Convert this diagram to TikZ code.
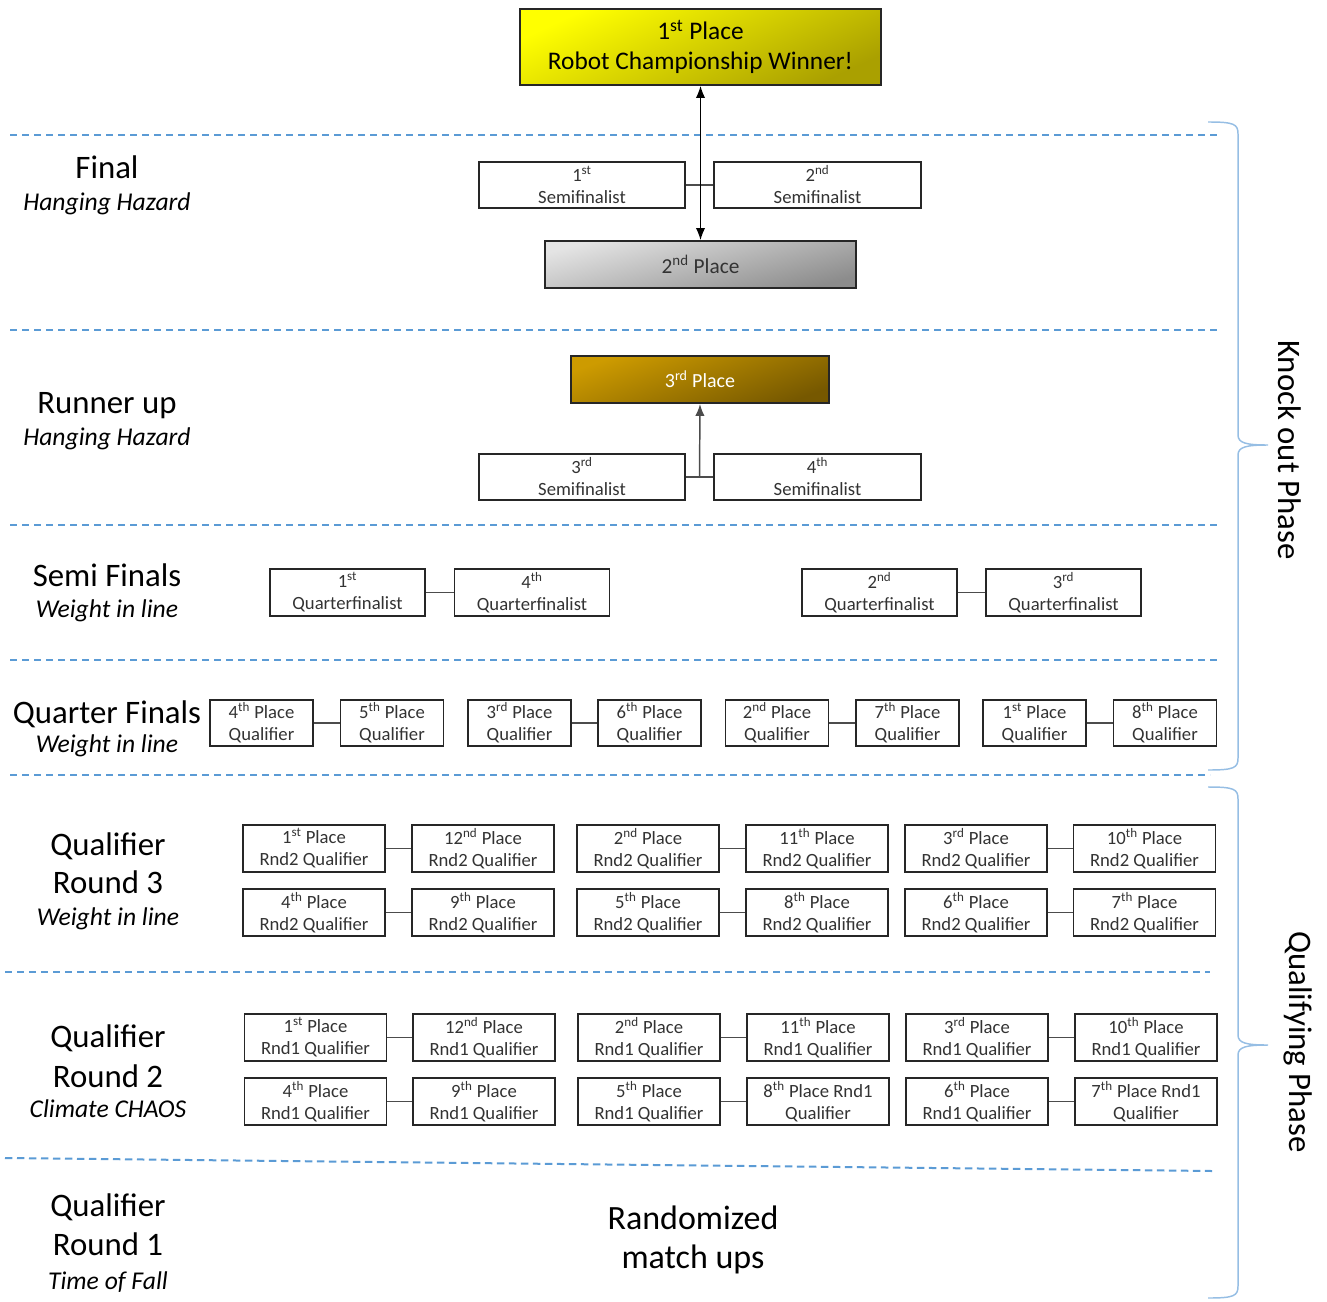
\documentclass[tikz,border=0pt]{standalone}
\usepackage{fontspec}
\setmainfont{Carlito}
\usepackage{tikz}
\usetikzlibrary{arrows.meta, calc, positioning}
\definecolor{lineablu}{RGB}{91,155,213}
\definecolor{graffablu}{RGB}{150,190,228}
\newcommand{\posto}[2]{#1\textsuperscript{#2}}
\tikzset{
  casella/.style 2 args={draw=black!85, line width=1.4pt, fill=white, text=black!80,
    minimum width=#1*0.75pt, minimum height=#2*0.75pt, inner sep=0pt, align=center,
    font=\fontsize{14}{16.5}\selectfont},
  separa/.style={lineablu, line width=1.5pt, dash pattern=on 5.5pt off 3.5pt},
  legame/.style={black!70, line width=1.1pt},
  graffa/.style={graffablu, line width=1.1pt},
  titolo/.style={anchor=base, font=\fontsize{24.6}{30}\selectfont},
  sottotitolo/.style={anchor=base, font=\fontsize{19.2}{22}\selectfont\itshape},
  punta/.tip={Latex[length=9pt, width=7pt]},
}

\begin{document}
\begin{tikzpicture}[x=0.75pt, y=-0.75pt]
    % Cornice
    \useasboundingbox (0,0) rectangle (1327,1302);
    % Linee tratteggiate
    \draw[separa] (10,135) -- (1218,135);
    \draw[separa] (10,330) -- (1218,330);
    \draw[separa] (10,525) -- (1218,525);
    \draw[separa] (10,660) -- (1218,660);
    \draw[separa] (10,775) -- (1210,775);
    \draw[separa] (5,972) -- (1210,972);
    \draw[separa] (5,1158) -- (1212,1171);
    % Finale
    \node[casella={361}{76}, top color={rgb,255:red,255;green,255;blue,0}, bottom color={rgb,255:red,170;green,160;blue,0}, shading angle=25, text=black, font=\fontsize{19}{22.5}\selectfont] (vincitore) at (700.5,47) {\posto{1}{st} Place\\Robot Championship Winner!};
    \node[casella={206}{46}] (semi1) at (582,185) {\posto{1}{st}\\Semifinalist};
    \node[casella={207}{46}] (semi2) at (817.5,185) {\posto{2}{nd}\\Semifinalist};
    \node[casella={311}{47}, top color={rgb,255:red,228;green,228;blue,228}, bottom color={rgb,255:red,140;green,140;blue,140}, shading angle=15, font=\fontsize{16}{19}\selectfont] (secondo) at (700.5,264.5) {\posto{2}{nd} Place};
    \draw[legame] (semi1.east) -- (semi2.west);
    \draw[punta-punta, line width=0.9pt] (vincitore.south) -- (secondo.north);
    % Finalina
    \node[casella={258}{47}, top color={rgb,255:red,205;green,155;blue,0}, bottom color={rgb,255:red,118;green,88;blue,0}, shading angle=20, text=white, font=\fontsize{15}{18}\selectfont] (terzo) at (700,379.5) {\posto{3}{rd} Place};
    \node[casella={206}{46}] (semi3) at (582,477) {\posto{3}{rd}\\Semifinalist};
    \node[casella={207}{46}] (semi4) at (817.5,477) {\posto{4}{th}\\Semifinalist};
    \coordinate (nodo3) at ($(semi3.east)!0.5!(semi4.west)$);
    \draw[legame] (semi3.east) -- (semi4.west);
    \draw[legame, -punta] (nodo3) -- (terzo.south);
    % Semifinali
    \node[casella={155}{47}] (quarto1) at (347.5,592.5) {\posto{1}{st}\\Quarterfinalist};
    \node[casella={155}{47}] (quarto4) at (532,592.5) {\posto{4}{th}\\Quarterfinalist};
    \node[casella={155}{47}] (quarto2) at (879.5,592.5) {\posto{2}{nd}\\Quarterfinalist};
    \node[casella={155}{47}] (quarto3) at (1063.5,592.5) {\posto{3}{rd}\\Quarterfinalist};
    \draw[legame] (quarto1.east) -- (quarto4.west);
    \draw[legame] (quarto2.east) -- (quarto3.west);
    % Quarti
    \node[casella={103}{46}] (qual4) at (261.5,723) {\posto{4}{th} Place\\Qualifier};
    \node[casella={103}{46}] (qual5) at (392,723) {\posto{5}{th} Place\\Qualifier};
    \node[casella={103}{46}] (qual3) at (519.5,723) {\posto{3}{rd} Place\\Qualifier};
    \node[casella={103}{46}] (qual6) at (649.5,723) {\posto{6}{th} Place\\Qualifier};
    \node[casella={103}{46}] (qual2) at (777,723) {\posto{2}{nd} Place\\Qualifier};
    \node[casella={103}{46}] (qual7) at (907.5,723) {\posto{7}{th} Place\\Qualifier};
    \node[casella={103}{46}] (qual1) at (1034.5,723) {\posto{1}{st} Place\\Qualifier};
    \node[casella={103}{46}] (qual8) at (1165,723) {\posto{8}{th} Place\\Qualifier};
    \draw[legame] (qual4.east) -- (qual5.west);
    \draw[legame] (qual3.east) -- (qual6.west);
    \draw[legame] (qual2.east) -- (qual7.west);
    \draw[legame] (qual1.east) -- (qual8.west);
    % Qualificazione turno 3
    \node[casella={142}{47}] (tre1) at (314,848.5) {\posto{1}{st} Place\\Rnd2 Qualifier};
    \node[casella={142}{47}] (tre12) at (483,848.5) {\posto{12}{nd} Place\\Rnd2 Qualifier};
    \node[casella={142}{47}] (tre2) at (648,848.5) {\posto{2}{nd} Place\\Rnd2 Qualifier};
    \node[casella={142}{47}] (tre11) at (817,848.5) {\posto{11}{th} Place\\Rnd2 Qualifier};
    \node[casella={142}{47}] (tre3) at (976,848.5) {\posto{3}{rd} Place\\Rnd2 Qualifier};
    \node[casella={142}{47}] (tre10) at (1144.5,848.5) {\posto{10}{th} Place\\Rnd2 Qualifier};
    \node[casella={142}{47}] (tre4) at (314,912.5) {\posto{4}{th} Place\\Rnd2 Qualifier};
    \node[casella={142}{47}] (tre9) at (483,912.5) {\posto{9}{th} Place\\Rnd2 Qualifier};
    \node[casella={142}{47}] (tre5) at (648,912.5) {\posto{5}{th} Place\\Rnd2 Qualifier};
    \node[casella={142}{47}] (tre8) at (817,912.5) {\posto{8}{th} Place\\Rnd2 Qualifier};
    \node[casella={142}{47}] (tre6) at (976,912.5) {\posto{6}{th} Place\\Rnd2 Qualifier};
    \node[casella={142}{47}] (tre7) at (1144.5,912.5) {\posto{7}{th} Place\\Rnd2 Qualifier};
    \draw[legame] (tre1.east) -- (tre12.west);
    \draw[legame] (tre2.east) -- (tre11.west);
    \draw[legame] (tre3.east) -- (tre10.west);
    \draw[legame] (tre4.east) -- (tre9.west);
    \draw[legame] (tre5.east) -- (tre8.west);
    \draw[legame] (tre6.east) -- (tre7.west);
    % Qualificazione turno 2
    \node[casella={142}{47}] (due1) at (315.5,1037.5) {\posto{1}{st} Place\\Rnd1 Qualifier};
    \node[casella={142}{47}] (due12) at (484,1037.5) {\posto{12}{nd} Place\\Rnd1 Qualifier};
    \node[casella={142}{47}] (due2) at (649,1037.5) {\posto{2}{nd} Place\\Rnd1 Qualifier};
    \node[casella={142}{47}] (due11) at (818,1037.5) {\posto{11}{th} Place\\Rnd1 Qualifier};
    \node[casella={142}{47}] (due3) at (977,1037.5) {\posto{3}{rd} Place\\Rnd1 Qualifier};
    \node[casella={142}{47}] (due10) at (1146,1037.5) {\posto{10}{th} Place\\Rnd1 Qualifier};
    \node[casella={142}{47}] (due4) at (315.5,1101.5) {\posto{4}{th} Place\\Rnd1 Qualifier};
    \node[casella={142}{47}] (due9) at (484,1101.5) {\posto{9}{th} Place\\Rnd1 Qualifier};
    \node[casella={142}{47}] (due5) at (649,1101.5) {\posto{5}{th} Place\\Rnd1 Qualifier};
    \node[casella={142}{47}] (due8) at (818,1101.5) {\posto{8}{th} Place Rnd1\\Qualifier};
    \node[casella={142}{47}] (due6) at (977,1101.5) {\posto{6}{th} Place\\Rnd1 Qualifier};
    \node[casella={142}{47}] (due7) at (1146,1101.5) {\posto{7}{th} Place Rnd1\\Qualifier};
    \draw[legame] (due1.east) -- (due12.west);
    \draw[legame] (due2.east) -- (due11.west);
    \draw[legame] (due3.east) -- (due10.west);
    \draw[legame] (due4.east) -- (due9.west);
    \draw[legame] (due5.east) -- (due8.west);
    \draw[legame] (due6.east) -- (due7.west);
    % Etichette a sinistra
    \node[titolo] (tFinal) at (107,179) {Final};
    \node[sottotitolo] (sFinal) at (107,210) {Hanging Hazard};
    \node[titolo] (tRunner) at (107,413) {Runner up};
    \node[sottotitolo] (sRunner) at (107,445) {Hanging Hazard};
    \node[titolo] (tSemi) at (107,586) {Semi Finals};
    \node[sottotitolo] (sSemi) at (107,617) {Weight in line};
    \node[titolo] (tQuarti) at (107,723) {Quarter Finals};
    \node[sottotitolo] (sQuarti) at (107,752) {Weight in line};
    \node[titolo] (tTre) at (108,855) {Qualifier};
    \node[titolo] (rTre) at (108,893) {Round 3};
    \node[sottotitolo] (sTre) at (108,925) {Weight in line};
    \node[titolo] (tDue) at (108,1047) {Qualifier};
    \node[titolo] (rDue) at (108,1087) {Round 2};
    \node[sottotitolo] (sDue) at (108,1117) {Climate CHAOS};
    \node[titolo] (tUno) at (108,1216) {Qualifier};
    \node[titolo] (rUno) at (108,1255) {Round 1};
    \node[sottotitolo] (sUno) at (108,1289) {Time of Fall};
    \node[titolo, font=\fontsize{25.5}{30}\selectfont] (casuale) at (693,1229) {Randomized};
    \node[titolo, font=\fontsize{25.5}{30}\selectfont] (incontri) at (693,1268) {match ups};
    % Graffe e fasi
    \draw[graffa] (1208,122) .. controls (1234,122) and (1238,124) .. (1238,134) -- (1238,435) .. controls (1238,443) and (1246,445) .. (1268,445) .. controls (1246,445) and (1238,447) .. (1238,455) -- (1238,758) .. controls (1238,768) and (1234,770) .. (1208,770);
    \draw[graffa] (1208,787) .. controls (1234,787) and (1238,789) .. (1238,799) -- (1238,1035) .. controls (1238,1043) and (1246,1045) .. (1268,1045) .. controls (1246,1045) and (1238,1047) .. (1238,1055) -- (1238,1286) .. controls (1238,1296) and (1234,1298) .. (1208,1298);
    \node[rotate=-90, font=\fontsize{24.6}{30}\selectfont] (fase1) at (1290,450) {Knock out Phase};
    \node[rotate=-90, font=\fontsize{24.6}{30}\selectfont] (fase2) at (1298,1042) {Qualifying Phase};
\end{tikzpicture}
\end{document}
